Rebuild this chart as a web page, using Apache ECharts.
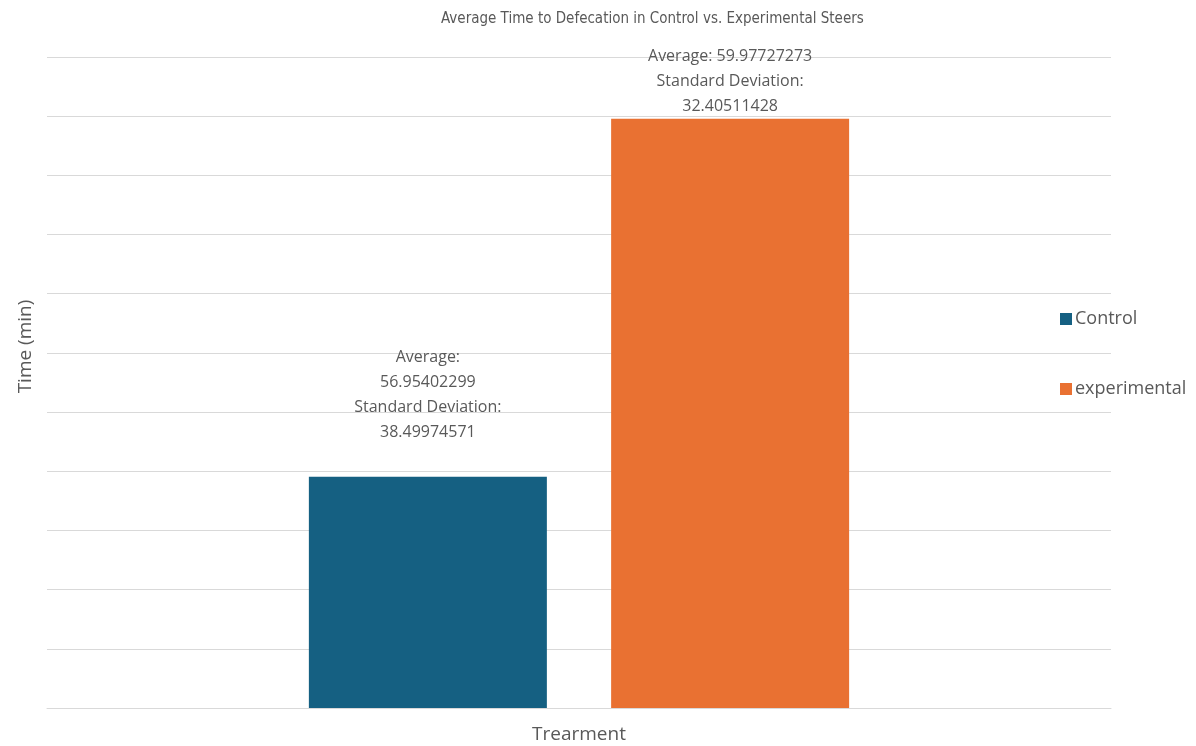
<!DOCTYPE html>
<html>
<head>
<meta charset="utf-8">
<script src="https://cdn.jsdelivr.net/npm/echarts@6/dist/echarts.min.js"></script>
<style>
  html, body { margin: 0; padding: 0; background: #fff; }
  #chart { width: 1196px; height: 746px; }
</style>
</head>
<body>
<div id="chart"></div>
<script>
const categories = ["Trearment"];
const seriesNames = ["Control", "experimental"];
const averages = [56.95402299, 59.97727273];
const stdDevs = [38.49974571, 32.40511428];
const colors = ["#156082", "#E97132"];
// Excel wrapped the two data labels differently
const labelTexts = [
  "Average:\n" + averages[0] + "\nStandard Deviation:\n" + stdDevs[0],
  "Average: " + averages[1] + "\nStandard Deviation:\n" + stdDevs[1],
];
const labelDistance = [32, 0];

let mychart = echarts.init(document.getElementById("chart"));
let option = {
  animation: false,
  title: {
    text: "Average Time to Defecation in Control vs. Experimental Steers",
    left: 436,
    top: 7,
    textStyle: {
      fontFamily: "'Liberation Sans Narrow', 'DejaVu Sans Condensed', Lato",
      fontSize: 15,
      fontWeight: "normal",
      color: "#595959",
    },
  },
  legend: {
    orient: "vertical",
    left: 1055,
    top: 305,
    itemWidth: 12,
    itemHeight: 12,
    itemGap: 52,
    icon: "rect",
    textStyle: { fontFamily: "Open Sans", fontSize: 18, color: "#595959", padding: [0, 0, 0, -2] },
    data: seriesNames,
  },
  grid: { left: 47, right: 85, top: 57, bottom: 38, outerBoundsMode: "none" },
  xAxis: {
    type: "category",
    data: categories,
    name: categories[0],
    nameLocation: "middle",
    nameGap: 17,
    nameTextStyle: { fontFamily: "Open Sans", fontSize: 19, color: "#595959" },
    axisLine: { lineStyle: { color: "#d9d9d9" } },
    axisTick: { show: false },
    axisLabel: { show: false },
  },
  yAxis: {
    type: "value",
    min: 55,
    max: 60.5,
    interval: 0.5,
    name: "Time (min)",
    nameLocation: "middle",
    nameGap: 12,
    nameTextStyle: {
      fontFamily: "Open Sans",
      fontSize: 19,
      color: "#595959",
      padding: [0, 0, 0, 72],
    },
    axisLabel: { show: false },
    axisLine: { show: false },
    axisTick: { show: false },
    splitLine: { lineStyle: { color: "#d9d9d9", width: 1 } },
  },
  series: seriesNames.map((name, i) => ({
    name: name,
    type: "bar",
    barWidth: 238,
    barGap: "27%",
    itemStyle: { color: colors[i] },
    label: {
      show: true,
      position: "top",
      distance: labelDistance[i],
      formatter: labelTexts[i],
      fontFamily: "Open Sans",
      fontSize: 16,
      lineHeight: 25,
      color: "#595959",
    },
    data: [averages[i]],
  })),
};
mychart.setOption(option);
</script>
</body>
</html>
